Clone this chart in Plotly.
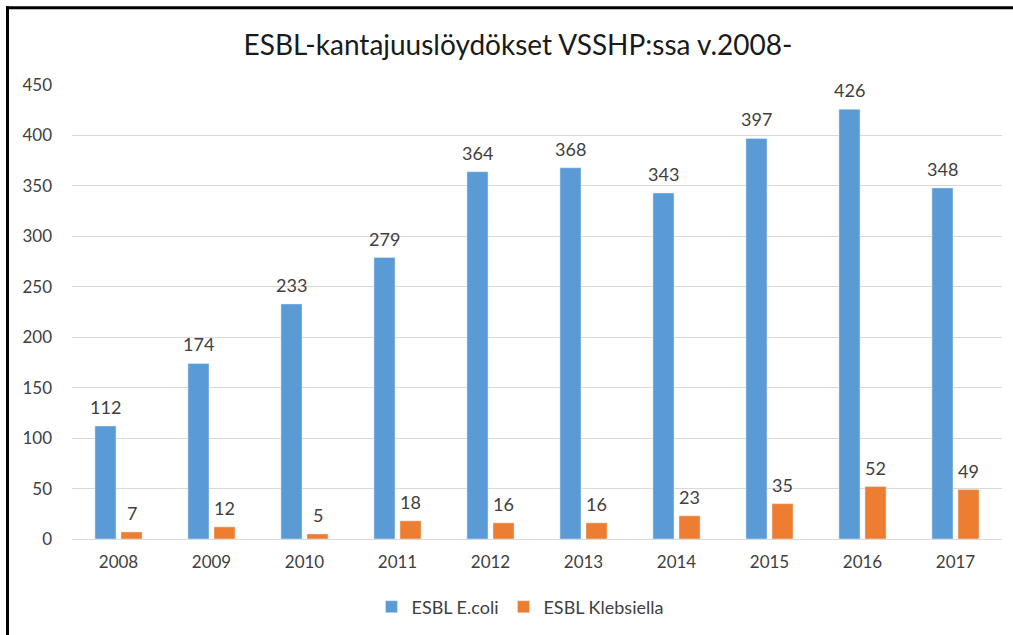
import plotly.graph_objects as go

years = ["2008", "2009", "2010", "2011", "2012", "2013", "2014", "2015", "2016", "2017"]
ecoli = [112, 174, 233, 279, 364, 368, 343, 397, 426, 348]
klebsiella = [7, 12, 5, 18, 16, 16, 23, 35, 52, 49]
series_names = ["ESBL E.coli", "ESBL Klebsiella"]
title_text = "ESBL-kantajuuslöydökset VSSHP:ssa v.2008-"
y_ticks = [0, 50, 100, 150, 200, 250, 300, 350, 400, 450]

BLUE = "#5B9BD5"
ORANGE = "#ED7D31"
FONT = "Lato, Open Sans, sans-serif"

fig = go.Figure()
fig.add_trace(go.Bar(x=years, y=ecoli, name=series_names[0], marker_color=BLUE))
fig.add_trace(go.Bar(x=years, y=klebsiella, name=series_names[1], marker_color=ORANGE))

annotations = []
for vals, shift in ((ecoli, -13), (klebsiella, 13)):
    for i, v in enumerate(vals):
        annotations.append(dict(x=i, y=v, xref="x", yref="y", text=str(v), showarrow=False,
                                xshift=shift, yshift=6, yanchor="bottom",
                                font=dict(size=18, color="#404040", family=FONT)))

W, H = 1013, 635
L, R, T, B = 72, 11, 85, 95
pw, ph = W - L - R, H - T - B

def px_x(px):
    return (px - L) / pw

def px_y(py):
    return (H - B - py) / ph

shapes = [
    dict(type="line", xref="paper", yref="paper", x0=px_x(7.5), x1=px_x(7.5), y0=px_y(6), y1=px_y(700),
         line=dict(color="black", width=3)),
    dict(type="line", xref="paper", yref="paper", x0=px_x(6), x1=px_x(1100), y0=px_y(7.5), y1=px_y(7.5),
         line=dict(color="black", width=3)),
]

fig.update_layout(
    width=W, height=H,
    margin=dict(l=L, r=R, t=T, b=B),
    paper_bgcolor="white", plot_bgcolor="white",
    barmode="group", bargap=0.44, bargroupgap=0.19,
    title=dict(text=title_text, x=518 / W, xanchor="center", y=1 - 45 / H, yanchor="middle",
               yref="container", font=dict(size=28, color="#1a1a1a", family=FONT)),
    legend=dict(orientation="h", x=px_x(520), xanchor="center", y=px_y(607), yanchor="middle",
                font=dict(size=18, color="#404040", family=FONT), itemwidth=30, traceorder="normal"),
    annotations=annotations,
    shapes=shapes,
    font=dict(family=FONT),
)
fig.update_yaxes(range=[0, 450], tickvals=y_ticks, showgrid=True, gridcolor="#D9D9D9", gridwidth=1,
                 zeroline=False, showline=False, ticks="",
                 tickfont=dict(size=17, color="#404040", family=FONT), ticklabelstandoff=19)
fig.update_xaxes(type="category", range=[-0.5, len(years) - 0.5], showline=True, linecolor="#D9D9D9",
                 ticks="", showgrid=False,
                 tickfont=dict(size=17, color="#404040", family=FONT), ticklabelstandoff=8)

fig.write_html("out.html", config={"displayModeBar": False},
               post_script="document.body.style.margin='0';")
